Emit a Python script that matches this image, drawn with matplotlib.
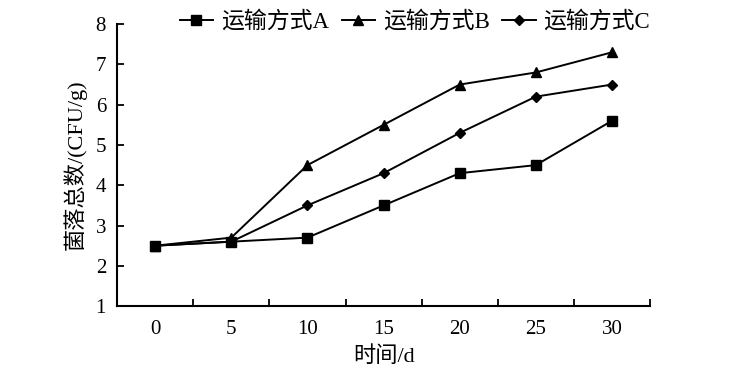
import matplotlib
matplotlib.use('Agg')
import matplotlib.pyplot as plt

plt.rcParams['font.family'] = ['Liberation Serif', 'Noto Sans CJK SC']

days = ['0', '5', '10', '15', '20', '25', '30']
series_a = [2.5, 2.6, 2.7, 3.5, 4.3, 4.5, 5.6]
series_b = [2.5, 2.7, 4.5, 5.5, 6.5, 6.8, 7.3]
series_c = [2.5, 2.6, 3.5, 4.3, 5.3, 6.2, 6.5]
names = ['运输方式A', '运输方式B', '运输方式C']

fig = plt.figure(figsize=(7.32, 3.77), dpi=100)
ax = fig.add_axes([0.160, 0.188, 0.728, 0.748])

x = list(range(len(days)))
ax.plot(x, series_a, color='black', lw=1.4, marker='s', ms=7, label=names[0])
ax.plot(x, series_b, color='black', lw=1.4, marker='^', ms=7, label=names[1])
ax.plot(x, series_c, color='black', lw=1.4, marker='D', ms=5, label=names[2])

ax.set_xlim(-0.5, 6.5)
ax.set_ylim(1, 8)
ax.set_xticks(x)
ax.set_xticklabels(days)
ax.set_xticks([i + 0.5 for i in range(-1, 7)], minor=True)
ax.tick_params(axis='x', which='major', length=0, pad=10, labelsize=15)
ax.tick_params(axis='x', which='minor', direction='in', length=5, width=1.3)
ax.tick_params(axis='y', direction='in', length=5, width=1.3, labelsize=15, pad=8)
ax.set_yticks(range(1, 9))

ax.spines['top'].set_visible(False)
ax.spines['right'].set_visible(False)
ax.spines['left'].set_linewidth(1.5)
ax.spines['bottom'].set_linewidth(1.5)

ax.set_xlabel('时间/d', fontsize=16, labelpad=5)
ax.set_ylabel('菌落总数/(CFU/g)', fontsize=16, labelpad=6)

fig.legend(loc='center', bbox_to_anchor=(0.567, 0.942), ncol=3, frameon=False,
           fontsize=16.5, handlelength=1.45, columnspacing=0.55, handletextpad=0.35)

plt.savefig('out.png', dpi=100)
